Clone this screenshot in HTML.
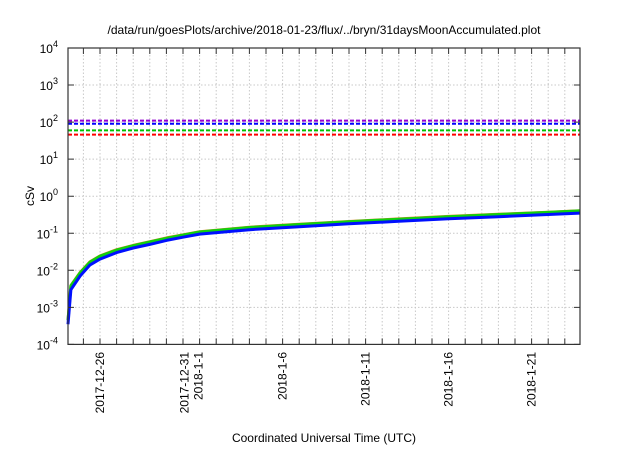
<!DOCTYPE html>
<html><head><meta charset="utf-8"><style>
body{margin:0;background:#fff;}
svg{font-family:"Liberation Sans",Arial,sans-serif;}
</style></head><body>
<svg id="chart" width="640" height="448" viewBox="0 0 640 448" xmlns="http://www.w3.org/2000/svg">
<rect width="640" height="448" fill="#fff"/>
<text x="324" y="34" font-size="12" text-anchor="middle">/data/run/goesPlots/archive/2018-01-23/flux/../bryn/31daysMoonAccumulated.plot</text>
<text transform="translate(34,196) rotate(-90)" font-size="12" text-anchor="middle">cSv</text>
<text x="324" y="442" font-size="12" text-anchor="middle">Coordinated Universal Time (UTC)</text>
<g id="grid"></g>
<g id="series"></g>
<rect x="68" y="48" width="512" height="296.4" fill="none" stroke="#333" stroke-width="1.2"/>
<g id="axes"></g>
</svg>
<script>
// day offsets relative to 2017-12-26
const days = [-1.93, -1.75, -1.2, -0.6, 0, 1, 2, 3, 4, 5, 6, 9, 12, 15, 18, 21, 24, 27, 28.9];
const blueValues = [0.00035, 0.003, 0.007, 0.014, 0.02, 0.03, 0.04, 0.05, 0.064, 0.078, 0.095, 0.125, 0.15, 0.18, 0.21, 0.245, 0.28, 0.32, 0.35];
const greenValues = [0.00045, 0.0038, 0.0085, 0.0165, 0.024, 0.035, 0.046, 0.058, 0.073, 0.089, 0.108, 0.143, 0.172, 0.205, 0.24, 0.28, 0.32, 0.365, 0.4];
const redValues = [0.00045, 0.0039, 0.0087, 0.017, 0.0245, 0.036, 0.047, 0.059, 0.075, 0.09, 0.11, 0.146, 0.175, 0.208, 0.244, 0.285, 0.325, 0.37, 0.405];
const thresholds = [110, 90, 60, 46];
const thresholdColors = ['#9400d3', '#0000ff', '#00c000', '#ff0000'];
const yExponents = [-4, -3, -2, -1, 0, 1, 2, 3, 4];
const tickLabels = [['2017-12-26'], ['2017-12-31', '2018-1-1'], ['2018-1-6'], ['2018-1-11'], ['2018-1-16'], ['2018-1-21']];
const tickLabelDays = [0, 5.5, 11, 16, 21, 26];

const NS = 'http://www.w3.org/2000/svg';
const X0 = 68, X1 = 580, Y0 = 48, Y1 = 344.4;
const xOf = d => 100 + d * 16.6;
const yOf = v => Y0 + (4 - Math.log10(v)) * (Y1 - Y0) / 8;
function mk(tag, attrs, parent) { const e = document.createElementNS(NS, tag); for (const k in attrs) e.setAttribute(k, attrs[k]); parent.appendChild(e); return e; }
const grid = document.getElementById('grid'), axes = document.getElementById('axes'), series = document.getElementById('series');

for (let d = -1; d <= 28; d++) {
  const x = xOf(d);
  const g = mk('line', {x1: x, x2: x, y1: Y0, y2: Y1, stroke: '#c8c8c8', 'stroke-dasharray': '1.5,2', 'stroke-width': 1}, grid);
  
  
  const t1 = mk('line', {x1: x, x2: x, y1: Y1, y2: Y1 - 6, stroke: '#333'}, axes);
  
  
  const t2 = mk('line', {x1: x, x2: x, y1: Y0, y2: Y0 + 6, stroke: '#333'}, axes);
  
  
}
yExponents.forEach(e => {
  const y = yOf(Math.pow(10, e));
  if (e > -4 && e < 4) {
    const g = mk('line', {x1: X0, x2: X1, y1: y, y2: y, stroke: '#c8c8c8', 'stroke-dasharray': '1.5,2'}, grid);
    
    
  }
  const t = mk('path', {d: `M${X0},${y}h6M${X1},${y}h-6`, stroke: '#333'}, axes);
  
  
  const lab = mk('text', {x: 58, y: y + 5, 'font-size': 12, 'text-anchor': 'end'}, axes);
  
  
  lab.textContent = '10';
  const sup = mk('tspan', {dy: -6, 'font-size': 9}, lab);
  sup.textContent = String(e);
});
tickLabels.forEach((lines, i) => {
  const x = xOf(tickLabelDays[i]);
  lines.forEach((s, j) => {
    const off = (j - (lines.length - 1) / 2) * 14;
    const t = mk('text', {transform: `translate(${x + off + 4},352) rotate(-90)`, 'font-size': 12, 'text-anchor': 'end'}, axes);
    
    
    t.textContent = s;
  });
});
thresholds.forEach((v, i) => {
  const y = yOf(v);
  const l = mk('line', {x1: X0, x2: X1, y1: y, y2: y, stroke: thresholdColors[i], 'stroke-width': 2, 'stroke-dasharray': '4,2'}, series);
  
  
});
[[redValues, '#e08020', 'red-series'], [greenValues, '#10d010', 'green-series'], [blueValues, '#0010ff', 'blue-series']].forEach(([vals, c, n]) => {
  const p = mk('path', {d: 'M' + days.map((d, i) => xOf(d).toFixed(1) + ',' + yOf(vals[i]).toFixed(1)).join('L'), fill: 'none', stroke: c, 'stroke-width': 3, 'stroke-linejoin': 'round'}, series);
  
  
});
</script>
</body></html>
